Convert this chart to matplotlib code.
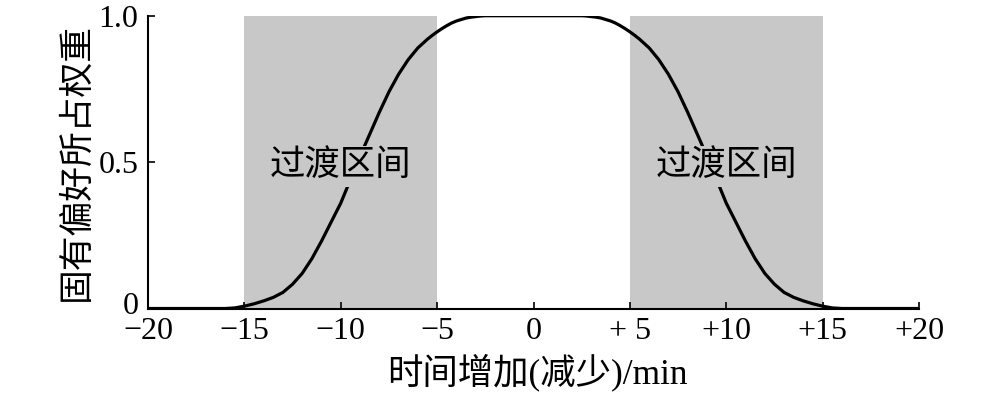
import matplotlib
matplotlib.use("Agg")
import matplotlib.pyplot as plt
import matplotlib.transforms as mtransforms
import numpy as np

plt.rcParams['font.family'] = ['Liberation Serif', 'Noto Sans CJK SC']
plt.rcParams['axes.unicode_minus'] = True

# curve (left half; right half mirrors it)
x_left = [-20, -16, -15.5, -15, -14.5, -14, -13.5, -13, -12.5, -12, -11.5, -11,
          -10.5, -10, -9.5, -9, -8.5, -8, -7.5, -7, -6.5, -6, -5.5, -5.25, -5,
          -4.75, -4.5, -4.25, -4, -3.75, -3.5, -3.25, -3, -2.75, -2.5]
y_left = [0.0, 0.0, 0.002, 0.008, 0.016, 0.026, 0.038, 0.055, 0.083, 0.12, 0.17,
          0.23, 0.295, 0.36, 0.44, 0.52, 0.595, 0.67, 0.74, 0.80, 0.85, 0.89,
          0.92, 0.933, 0.945, 0.956, 0.966, 0.975, 0.982, 0.987, 0.992, 0.995,
          0.997, 0.999, 1.0]
x_curve = x_left + [-v for v in x_left[::-1]]
y_curve = y_left + y_left[::-1]

zones = [(-15, -5), (5, 15)]
zone_label = "过渡区间"
xticks = [-20, -15, -10, -5, 0, 5, 10, 15, 20]
xtick_labels = ["\u221220", "\u221215", "\u221210", "\u22125", "0", "+ 5", "+10", "+15", "+20"]
yticks = [0, 0.5, 1.0]
ytick_labels = ["0", "0.5", "1.0"]

gray = '#c8c8c8'

fig = plt.figure(figsize=(10, 3.93), dpi=100)
ax = fig.add_axes([0.148, 0.215, 0.771, 0.745])

for a, b in zones:
    ax.axvspan(a, b, color=gray, lw=0, zorder=0)

ax.plot(x_curve, y_curve, color='black', lw=2.3, zorder=2)

for a, b in zones:
    ax.text((a + b) / 2, 0.485, zone_label, fontsize=25.5, ha='center', va='center',
            zorder=3, bbox=dict(facecolor=gray, edgecolor='none', pad=3))

ax.set_xlim(-20, 20)
ax.set_ylim(0, 1)
ax.set_xticks(xticks)
ax.set_xticklabels(xtick_labels)
ax.set_yticks(yticks)
ax.set_yticklabels(ytick_labels)
ax.tick_params(direction='in', length=5, width=1.2, labelsize=23)
ax.tick_params(axis='x', pad=6)
ax.tick_params(axis='y', pad=7)

# the "0" on the y axis sits a little above the baseline in the original
lab0 = ax.get_yticklabels()[0]
lab0.set_transform(lab0.get_transform() +
                   mtransforms.ScaledTranslation(0, 4 / 72, fig.dpi_scale_trans))

for s in ['top', 'right']:
    ax.spines[s].set_visible(False)
for s in ['left', 'bottom']:
    ax.spines[s].set_linewidth(1.5)

ax.set_xlabel("时间增加(减少)/min", fontsize=25.5)
ax.xaxis.label.set_va('center')
ax.xaxis.set_label_coords(0.505, -0.217)
ax.set_ylabel("固有偏好所占权重", fontsize=25)
ax.yaxis.label.set_va('center')
ax.yaxis.set_label_coords(-0.0925, 0.5)

fig.savefig("out.png", dpi=100)
